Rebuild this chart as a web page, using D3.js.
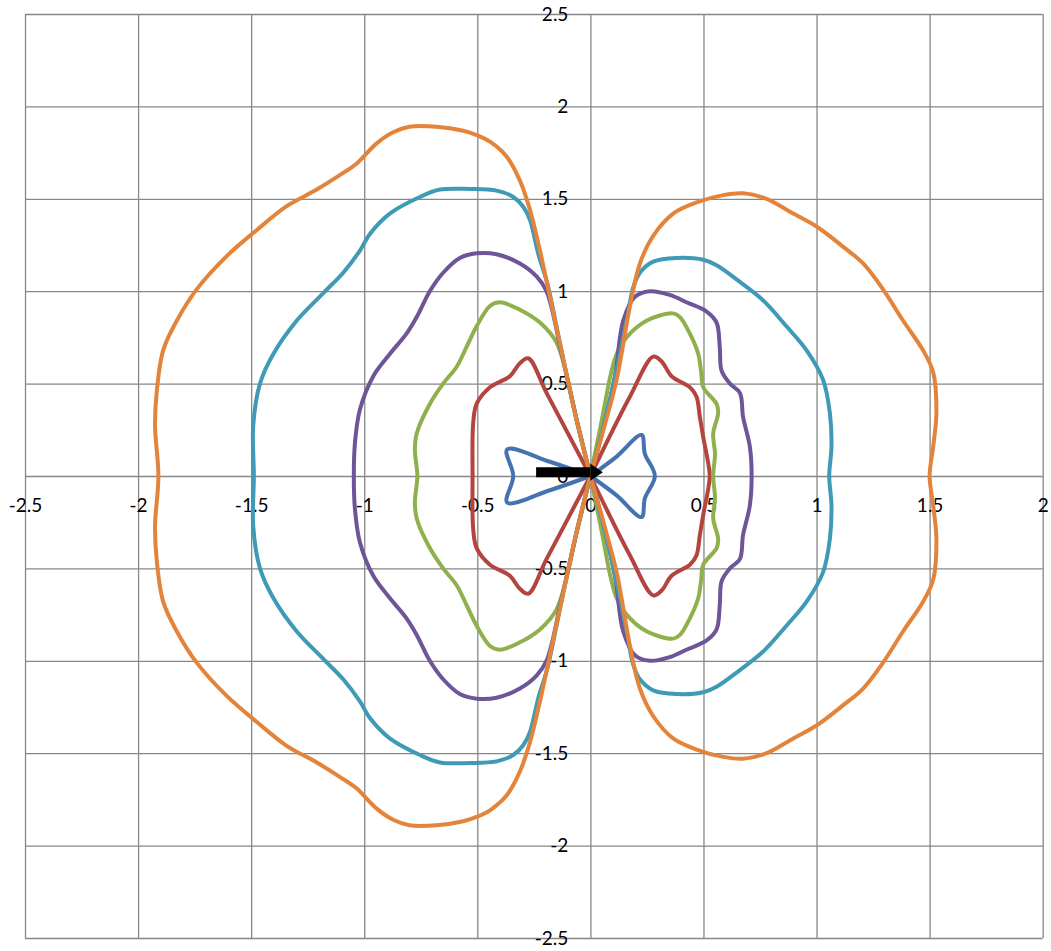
<!DOCTYPE html>
<html>
<head>
<meta charset="utf-8">
<script src="https://cdn.jsdelivr.net/npm/d3@7"></script>
<style>
  body { margin: 0; background: #fff; }
  text { font-family: Lato, "Open Sans", sans-serif; }
</style>
</head>
<body>
<div id="chart"></div>
<script>
var svgwidth = 1051;
var svgheight = 951;

// tick values for both axes
var xTicks = [-2.5, -2, -1.5, -1, -0.5, 0, 0.5, 1, 1.5, 2];
var yTicks = [-2.5, -2, -1.5, -1, -0.5, 0, 0.5, 1, 1.5, 2, 2.5];

var blueRight = [[0,0],[0.116,0.105],[0.226,0.222],[0.241,0.12],[0.285,0],[0.241,-0.12],[0.226,-0.222],[0.116,-0.105],[0,0]];
var blueLeft = [[0,0],[-0.179,0.077],[-0.368,0.144],[-0.341,0],[-0.368,-0.144],[-0.179,-0.077],[0,0]];

var redRight = [[0,0],[0.175,0.43],[0.278,0.646],[0.315,0.62],[0.359,0.54],[0.44,0.48],[0.469,0.43],[0.484,0.32],[0.499,0.21],[0.521,0.07],[0.528,0],
  [0.521,-0.07],[0.499,-0.21],[0.484,-0.32],[0.469,-0.43],[0.44,-0.48],[0.359,-0.54],[0.315,-0.62],[0.278,-0.646],[0.175,-0.43],[0,0]];
var redLeft = [[0,0],[-0.194,0.45],[-0.275,0.637],[-0.312,0.61],[-0.356,0.54],[-0.444,0.48],[-0.503,0.39],[-0.518,0.29],[-0.521,0],
  [-0.518,-0.29],[-0.503,-0.39],[-0.444,-0.48],[-0.356,-0.54],[-0.312,-0.61],[-0.275,-0.637],[-0.194,-0.45],[0,0]];

var greenRight = [[0,0],[0.05,0.3],[0.09,0.55],[0.116,0.66],[0.16,0.75],[0.248,0.84],[0.366,0.88],[0.396,0.86],[0.44,0.77],[0.477,0.66],[0.49,0.56],[0.499,0.48],[0.558,0.39],[0.565,0.34],[0.543,0.23],[0.551,0.12],[0.543,0],
  [0.551,-0.12],[0.543,-0.23],[0.565,-0.34],[0.558,-0.39],[0.499,-0.48],[0.49,-0.56],[0.477,-0.66],[0.44,-0.77],[0.396,-0.86],[0.366,-0.88],[0.248,-0.84],[0.16,-0.75],[0.116,-0.66],[0.09,-0.55],[0.05,-0.3],[0,0]];
var greenLeft = [[0,0],[-0.06,0.3],[-0.149,0.72],[-0.223,0.83],[-0.312,0.9],[-0.4,0.94],[-0.444,0.92],[-0.503,0.81],[-0.547,0.7],[-0.592,0.59],[-0.651,0.5],[-0.71,0.39],[-0.768,0.23],[-0.776,0.14],[-0.765,0],
  [-0.776,-0.14],[-0.768,-0.23],[-0.71,-0.39],[-0.651,-0.5],[-0.592,-0.59],[-0.547,-0.7],[-0.503,-0.81],[-0.444,-0.92],[-0.4,-0.94],[-0.312,-0.9],[-0.223,-0.83],[-0.149,-0.72],[-0.06,-0.3],[0,0]];

var purpleRight = [[0,0],[0.06,0.27],[0.11,0.55],[0.145,0.84],[0.197,0.97],[0.263,1.0],[0.351,0.98],[0.425,0.94],[0.514,0.89],[0.558,0.83],[0.572,0.7],[0.58,0.57],[0.617,0.5],[0.661,0.45],[0.675,0.32],[0.705,0.16],[0.713,0],
  [0.705,-0.16],[0.675,-0.32],[0.661,-0.45],[0.617,-0.5],[0.58,-0.57],[0.572,-0.7],[0.558,-0.83],[0.514,-0.89],[0.425,-0.94],[0.351,-0.98],[0.263,-1.0],[0.197,-0.97],[0.145,-0.84],[0.11,-0.55],[0.06,-0.27],[0,0]];
var purpleLeft = [[0,0],[-0.06,0.3],[-0.13,0.68],[-0.194,1.0],[-0.238,1.08],[-0.312,1.15],[-0.415,1.2],[-0.503,1.205],[-0.577,1.18],[-0.651,1.1],[-0.71,1.0],[-0.768,0.86],[-0.813,0.77],[-0.887,0.66],[-0.96,0.54],[-1.019,0.36],[-1.041,0.18],[-1.046,0],
  [-1.041,-0.18],[-1.019,-0.36],[-0.96,-0.54],[-0.887,-0.66],[-0.813,-0.77],[-0.768,-0.86],[-0.71,-1.0],[-0.651,-1.1],[-0.577,-1.18],[-0.503,-1.205],[-0.415,-1.2],[-0.312,-1.15],[-0.238,-1.08],[-0.194,-1.0],[-0.13,-0.68],[-0.06,-0.3],[0,0]];

var tealRight = [[0,0],[0.06,0.28],[0.12,0.6],[0.165,0.87],[0.189,1.02],[0.219,1.1],[0.278,1.16],[0.381,1.18],[0.499,1.17],[0.558,1.14],[0.661,1.05],[0.764,0.95],[0.867,0.81],[0.956,0.68],[1.029,0.52],[1.059,0.34],[1.066,0.16],[1.056,0],
  [1.066,-0.16],[1.059,-0.34],[1.029,-0.52],[0.956,-0.68],[0.867,-0.81],[0.764,-0.95],[0.661,-1.05],[0.558,-1.14],[0.499,-1.17],[0.381,-1.18],[0.278,-1.16],[0.219,-1.1],[0.189,-1.02],[0.165,-0.87],[0.12,-0.6],[0.06,-0.28],[0,0]];
var tealLeft = [[0,0],[-0.07,0.35],[-0.135,0.72],[-0.19,1.04],[-0.23,1.2],[-0.267,1.385],[-0.297,1.457],[-0.341,1.51],[-0.415,1.544],[-0.533,1.553],[-0.665,1.55],[-0.754,1.51],[-0.887,1.42],[-0.975,1.31],[-1.019,1.22],[-1.093,1.1],[-1.181,0.99],[-1.299,0.84],[-1.402,0.66],[-1.461,0.5],[-1.491,0.27],[-1.488,0],
  [-1.491,-0.27],[-1.461,-0.5],[-1.402,-0.66],[-1.299,-0.84],[-1.181,-0.99],[-1.093,-1.1],[-1.019,-1.22],[-0.975,-1.31],[-0.887,-1.42],[-0.754,-1.51],[-0.665,-1.55],[-0.533,-1.553],[-0.415,-1.544],[-0.341,-1.51],[-0.297,-1.457],[-0.267,-1.385],[-0.23,-1.2],[-0.19,-1.04],[-0.135,-0.72],[-0.07,-0.35],[0,0]];

var orangeRight = [[0,0],[0.06,0.26],[0.116,0.52],[0.175,0.92],[0.219,1.15],[0.278,1.3],[0.366,1.42],[0.469,1.48],[0.587,1.52],[0.675,1.53],[0.779,1.5],[0.897,1.42],[1.0,1.35],[1.118,1.24],[1.206,1.15],[1.294,1.01],[1.383,0.84],[1.471,0.68],[1.516,0.56],[1.53,0.34],[1.516,0.16],[1.5,0],
  [1.516,-0.16],[1.53,-0.34],[1.516,-0.56],[1.471,-0.68],[1.383,-0.84],[1.294,-1.01],[1.206,-1.15],[1.118,-1.24],[1.0,-1.35],[0.897,-1.42],[0.779,-1.5],[0.675,-1.53],[0.587,-1.52],[0.469,-1.48],[0.366,-1.42],[0.278,-1.3],[0.219,-1.15],[0.175,-0.92],[0.116,-0.52],[0.06,-0.26],[0,0]];
var orangeLeft = [[0,0],[-0.07,0.35],[-0.135,0.72],[-0.179,0.97],[-0.223,1.22],[-0.267,1.44],[-0.312,1.6],[-0.37,1.728],[-0.444,1.809],[-0.503,1.845],[-0.562,1.868],[-0.68,1.89],[-0.8,1.89],[-0.872,1.86],[-0.945,1.8],[-1.034,1.69],[-1.093,1.64],[-1.21,1.55],[-1.343,1.46],[-1.476,1.33],[-1.608,1.19],[-1.741,1.01],[-1.829,0.84],[-1.889,0.68],[-1.918,0.45],[-1.925,0.27],[-1.91,0],
  [-1.925,-0.27],[-1.918,-0.45],[-1.889,-0.68],[-1.829,-0.84],[-1.741,-1.01],[-1.608,-1.19],[-1.476,-1.33],[-1.343,-1.46],[-1.21,-1.55],[-1.093,-1.64],[-1.034,-1.69],[-0.945,-1.8],[-0.872,-1.86],[-0.8,-1.89],[-0.68,-1.89],[-0.562,-1.868],[-0.503,-1.845],[-0.444,-1.809],[-0.37,-1.728],[-0.312,-1.6],[-0.267,-1.44],[-0.223,-1.22],[-0.179,-0.97],[-0.135,-0.72],[-0.07,-0.35],[0,0]];

var arrowLine = [[-0.24,0.02],[0,0.02]];

var series = [
  {name: "blue", color: "#4573b1", lobes: [blueRight, blueLeft]},
  {name: "red", color: "#b4443f", lobes: [redRight, redLeft]},
  {name: "green", color: "#8fb04c", lobes: [greenRight, greenLeft]},
  {name: "purple", color: "#6e5598", lobes: [purpleRight, purpleLeft]},
  {name: "teal", color: "#3f9ab6", lobes: [tealRight, tealLeft]},
  {name: "orange", color: "#e3843a", lobes: [orangeRight, orangeLeft]}
];

// plot area edges in pixels
var plotLeft = 25, plotRight = 1042.7, plotTop = 14, plotBottom = 938;

var svg = d3.select("#chart").append("svg").attr("width", svgwidth).attr("height", svgheight);

var xLinear = d3.scaleLinear().domain([-2.5, 2]).range([plotLeft, plotRight]);
var yLinear = d3.scaleLinear().domain([-2.5, 2.5]).range([plotBottom, plotTop]);

// gridlines (also form the plot border)
var xGrid = svg.append("g").attr("transform", `translate(0, ${plotBottom})`)
  .call(d3.axisBottom(xLinear).tickValues(xTicks).tickSize(-(plotBottom - plotTop)).tickFormat(""));
var yGrid = svg.append("g").attr("transform", `translate(${plotLeft}, 0)`)
  .call(d3.axisLeft(yLinear).tickValues(yTicks).tickSize(-(plotRight - plotLeft)).tickFormat(""));
[xGrid, yGrid].forEach(function(g) {
  g.select(".domain").remove();
  g.selectAll("line").attr("stroke", "#878787").attr("stroke-width", 1.3);
});

// tick labels sit along the zero axes
var xLabels = svg.append("g").attr("transform", `translate(0, ${yLinear(0)})`)
  .call(d3.axisBottom(xLinear).tickValues(xTicks).tickSize(0).tickPadding(23).tickFormat(d => String(d)));
var yLabels = svg.append("g").attr("transform", `translate(${xLinear(0)}, 0)`)
  .call(d3.axisLeft(yLinear).tickValues(yTicks).tickSize(0).tickPadding(22).tickFormat(d => String(d)));
[xLabels, yLabels].forEach(function(g) {
  g.select(".domain").remove();
  g.selectAll("text").attr("fill", "#000").style("font-size", "19px").style("font-family", "Lato, 'Open Sans', sans-serif");
});

var line = d3.line()
  .x(d => xLinear(d[0]))
  .y(d => yLinear(d[1]))
  .curve(d3.curveCatmullRom.alpha(0.5));

series.forEach(function(s) {
  svg.append("g").attr("class", s.name)
    .selectAll("path")
    .data(s.lobes)
    .enter()
    .append("path")
    .attr("d", line)
    .attr("fill", "none")
    .attr("stroke", s.color)
    .attr("stroke-width", 4)
    .attr("stroke-linejoin", "round")
    .attr("stroke-linecap", "round");
});

// arrow
svg.append("defs").append("marker")
  .attr("id", "head")
  .attr("markerUnits", "userSpaceOnUse")
  .attr("viewBox", "0 -9 13 18")
  .attr("refX", 0).attr("refY", 0)
  .attr("markerWidth", 13).attr("markerHeight", 18)
  .attr("orient", "auto")
  .append("path")
  .attr("d", "M0,-8.5L12.5,0L0,8.5Z")
  .attr("fill", "#000");

svg.append("path")
  .datum(arrowLine)
  .attr("d", d3.line().x(d => xLinear(d[0])).y(d => yLinear(d[1])))
  .attr("stroke", "#000")
  .attr("stroke-width", 10)
  .attr("fill", "none")
  .attr("marker-end", "url(#head)");
</script>
</body>
</html>
